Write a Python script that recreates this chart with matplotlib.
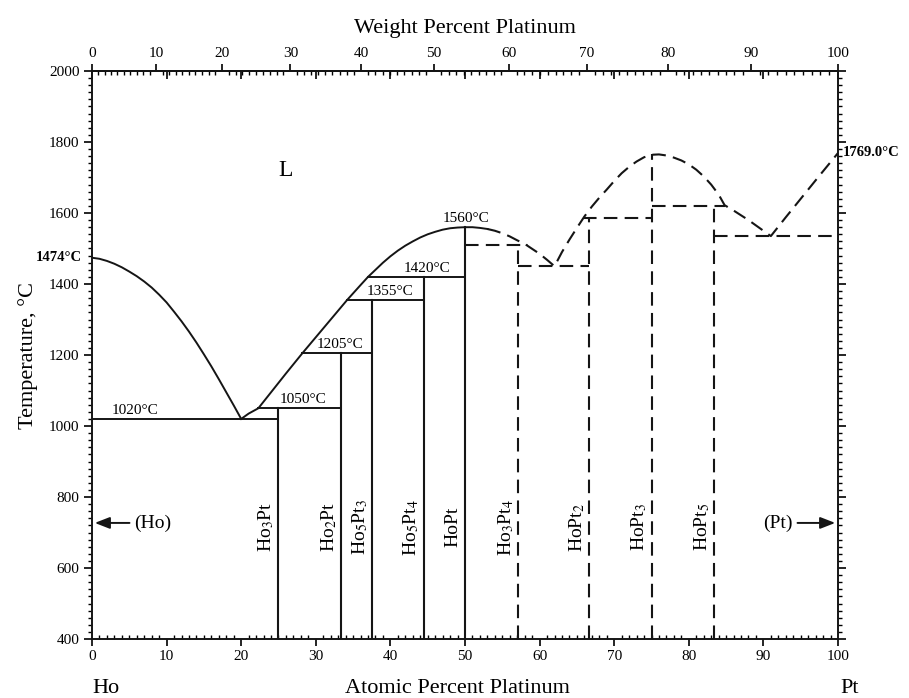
import numpy as np
import matplotlib
matplotlib.use("Agg")
import matplotlib.pyplot as plt
from matplotlib.ticker import MultipleLocator, FixedLocator

plt.rcParams['font.family'] = ['Liberation Serif', 'DejaVu Serif']
plt.rcParams['mathtext.fontset'] = 'stix'

# liquidus (atomic % Pt, deg C)
ho_liq_x = [0, 1, 2, 3, 4, 5, 6, 7, 8, 9, 10, 11, 12, 13, 14, 15, 16, 17, 18, 19, 20]
ho_liq_t = [1474, 1471, 1465, 1457, 1447, 1435, 1422, 1407, 1390, 1370, 1348, 1322, 1295,
            1266, 1235, 1202, 1168, 1132, 1095, 1058, 1020]

mid_liq_x = [20, 21, 22.3, 24, 26, 28.2, 30, 32, 34.2, 36, 37, 38, 39, 40, 41, 42, 43, 44,
             45, 46, 47, 48, 49, 50, 51, 52, 53]
mid_liq_t = [1020, 1035, 1050, 1095, 1148, 1205, 1250, 1300, 1355, 1397, 1420, 1440, 1460,
             1478, 1494, 1508, 1520, 1531, 1540, 1547, 1553, 1557, 1559, 1560, 1560, 1558, 1555]

dash_liq_x = [53, 54, 55, 56, 57, 58, 59, 60, 61, 62, 63, 64, 65, 66, 67, 68, 69, 70, 71, 72,
              73, 74, 75, 76, 77, 78, 79, 80, 81, 82, 83, 84, 84.8, 86, 88, 90, 91, 93, 95,
              97, 100]
dash_liq_t = [1555, 1550, 1543, 1534, 1523, 1513, 1499, 1485, 1468, 1450, 1490, 1525, 1558,
              1590, 1618, 1643, 1666, 1690, 1712, 1730, 1745, 1757, 1764, 1765, 1762, 1756,
              1748, 1737, 1722, 1703, 1680, 1652, 1622, 1607, 1580, 1550, 1535, 1588, 1640,
              1692, 1769]

# invariant lines: (x start, x end, T)
solid_h = [(0, 25, 1020), (22.3, 33.33, 1050), (28.2, 37.5, 1205), (34.2, 44.44, 1355), (37, 50, 1420)]
dashed_h = [(50, 58.4, 1510), (57.14, 66.67, 1450), (65.8, 75, 1585), (75, 84.8, 1620), (83.33, 100, 1535)]

# compounds: (composition, top T, label, dashed)
compounds = [
    (25.0, 1050, r"Ho$_3$Pt", False),
    (33.33, 1205, r"Ho$_2$Pt", False),
    (37.5, 1355, r"Ho$_5$Pt$_3$", False),
    (44.44, 1420, r"Ho$_5$Pt$_4$", False),
    (50.0, 1560, "HoPt", False),
    (57.14, 1510, r"Ho$_3$Pt$_4$", True),
    (66.67, 1585, r"HoPt$_2$", True),
    (75.0, 1765, r"HoPt$_3$", True),
    (83.33, 1620, r"HoPt$_5$", True),
]

temp_labels = [(5.8, 1020, "1020°C"), (28.3, 1050, "1050°C"), (33.3, 1205, "1205°C"),
               (40.0, 1355, "1355°C"), (44.9, 1420, "1420°C"), (50.1, 1560, "1560°C")]

M_HO, M_PT = 164.93, 195.08


def at2wt(a):
    a = np.asarray(a, dtype=float)
    return 100 * a * M_PT / (a * M_PT + (100 - a) * M_HO)


def wt2at(w):
    w = np.asarray(w, dtype=float)
    return 100 * (w / M_PT) / (w / M_PT + (100 - w) / M_HO)


fig = plt.figure(figsize=(9.09, 6.98), dpi=100)
ax = fig.add_axes([0.1012, 0.0845, 0.8207, 0.8138])
ax.set_xlim(0, 100)
ax.set_ylim(400, 2000)

lc = "#151515"
dash = (0, (6.5, 3.5))
ax.plot(ho_liq_x, ho_liq_t, color=lc, lw=1.4)
ax.plot(mid_liq_x, mid_liq_t, color=lc, lw=1.4)
ax.plot(dash_liq_x, dash_liq_t, color=lc, lw=1.5, ls=dash)

for x0, x1, t in solid_h:
    ax.plot([x0, x1], [t, t], color=lc, lw=1.4)
for x0, x1, t in dashed_h:
    ax.plot([x0, x1], [t, t], color=lc, lw=1.5, ls=dash)

for x, t, name, dashed in compounds:
    ls = dash if dashed else "-"
    ax.plot([x, x], [400, t], color=lc, lw=1.5, ls=ls)
    ax.text(x - 1.6, 715, name, rotation=90, ha="center", va="center", fontsize=14)

for x, t, s in temp_labels:
    ax.text(x, t + 6, s, ha="center", va="bottom", fontsize=11)

ax.text(-1.3, 1474, "1474°C", ha="right", va="center", fontsize=10.5, fontweight="bold")
ax.text(100.6, 1769, "1769.0°C", ha="left", va="center", fontsize=10.5, fontweight="bold",
        clip_on=False)
ax.text(26, 1720, "L", ha="center", va="center", fontsize=17)

arrow = dict(arrowstyle="-|>,head_length=0.9,head_width=0.35", color=lc, lw=1.4)
ax.annotate("", xy=(0, 727), xytext=(5.4, 727), arrowprops=arrow)
ax.text(5.6, 727, "(Ho)", ha="left", va="center", fontsize=14)
ax.annotate("", xy=(100, 727), xytext=(94.2, 727), arrowprops=arrow)
ax.text(93.9, 727, "(Pt)", ha="right", va="center", fontsize=14)

# bottom / sides
ax.xaxis.set_major_locator(MultipleLocator(10))
ax.xaxis.set_minor_locator(MultipleLocator(1))
ax.yaxis.set_major_locator(MultipleLocator(200))
ax.yaxis.set_minor_locator(MultipleLocator(20))
ax.tick_params(axis="x", which="major", direction="out", length=5, width=1.2, labelsize=11, pad=3)
ax.tick_params(axis="x", which="minor", direction="in", length=3, width=1.0)
ax.tick_params(axis="y", which="major", direction="out", length=6, width=1.2, labelsize=11,
               right=True, pad=3)
ax.tick_params(axis="y", which="minor", direction="out", length=3, width=1.0, right=True)
for sp in ax.spines.values():
    sp.set_linewidth(1.4)
    sp.set_color(lc)

# atomic % major ticks pointing down from the top edge
top_at = ax.secondary_xaxis("top")
top_at.xaxis.set_major_locator(MultipleLocator(10))
top_at.tick_params(direction="in", length=6, width=1.2, labeltop=False)
top_at.spines["top"].set_visible(False)

# weight percent scale on top
top_wt = ax.secondary_xaxis("top", functions=(at2wt, wt2at))
top_wt.xaxis.set_major_locator(FixedLocator(np.arange(0, 101, 10)))
top_wt.xaxis.set_minor_locator(FixedLocator(np.arange(0, 101, 1)))
top_wt.tick_params(which="major", direction="out", length=5, width=1.2, labelsize=11, pad=3)
top_wt.tick_params(which="minor", direction="in", length=3, width=1.0)
top_wt.spines["top"].set_linewidth(1.4)
top_wt.set_xlabel("Weight Percent Platinum", fontsize=16, labelpad=10)

ax.set_ylabel("Temperature, °C", fontsize=16, labelpad=8)
fig.text(0.503, 0.014, "Atomic Percent Platinum", ha="center", va="center", fontsize=16)
fig.text(0.1012, 0.014, "Ho", ha="left", va="center", fontsize=16)
fig.text(0.924, 0.014, "Pt", ha="left", va="center", fontsize=16)

fig.savefig("out.png", dpi=100)
